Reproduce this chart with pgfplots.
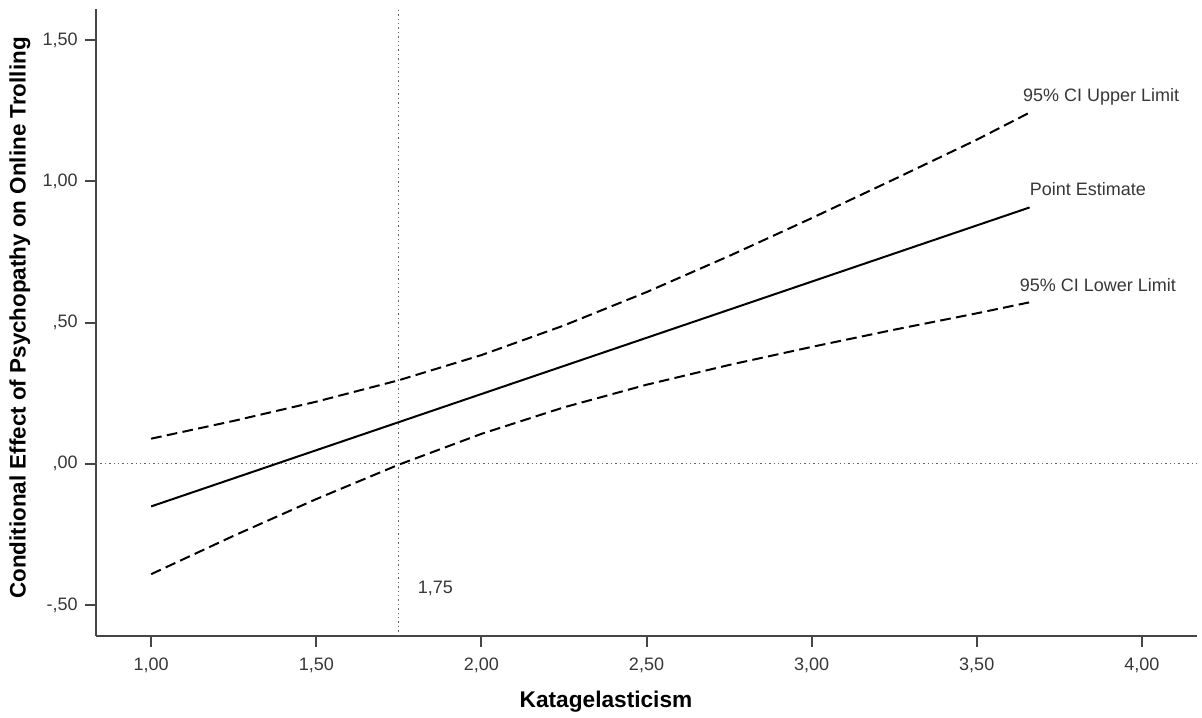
\documentclass[border=0pt]{standalone}
\usepackage{fontspec}
\setmainfont{Liberation Sans}
\usepackage{pgfplots}
\pgfplotsset{compat=1.18}
\definecolor{axisgray}{RGB}{70,70,70}
\definecolor{txtgray}{RGB}{55,55,55}
\definecolor{refgray}{RGB}{100,100,100}
\begin{document}
\begin{tikzpicture}
\path[use as bounding box] (0,0) rectangle (901.5pt,537.75pt);
\begin{axis}[
  at={(72pt,60.75pt)}, anchor=south west,
  scale only axis, width=825.75pt, height=470.25pt,
  xmin=0.833, xmax=4.167, ymin=-0.61, ymax=1.611,
  axis lines=left,
  axis line style={axisgray, line width=1.5pt, -},
  xtick={1,1.5,2,2.5,3,3.5,4},
  xticklabels={{1,00},{1,50},{2,00},{2,50},{3,00},{3,50},{4,00}},
  ytick={-0.5,0,0.5,1,1.5},
  yticklabels={{-,50},{,00},{,50},{1,00},{1,50}},
  tick align=outside, major tick length=8.25pt,
  major tick style={axisgray, line width=1.5pt},
  ticklabel style={font=\fontsize{13.5}{15}\selectfont, text=txtgray},
  xticklabel style={yshift=-5pt},
  yticklabel style={xshift=-2pt},
  clip=false,
]
\addplot[refgray, line width=1pt, dash pattern=on 1.1pt off 2.2pt] coordinates {(1.75,-0.61) (1.75,1.611)};
\addplot[refgray, line width=1pt, dash pattern=on 1.1pt off 2.2pt] coordinates {(0.833,0) (4.167,0)};
\addplot[black, line width=1.5pt] coordinates {(1.00,-0.151) (3.66,0.908)};
\addplot[black, line width=1.5pt, dash pattern=on 8pt off 4pt] coordinates {
(1.00,0.089) (1.25,0.152) (1.50,0.220) (1.75,0.296) (2.00,0.385) (2.25,0.490)
(2.50,0.608) (2.75,0.736) (3.00,0.870) (3.25,1.008) (3.50,1.148) (3.66,1.244)};
\addplot[black, line width=1.5pt, dash pattern=on 8pt off 4pt] coordinates {
(1.00,-0.391) (1.25,-0.255) (1.50,-0.125) (1.75,-0.003) (2.00,0.106) (2.25,0.200)
(2.50,0.280) (2.75,0.350) (3.00,0.414) (3.25,0.475) (3.50,0.533) (3.66,0.572)};
\node[anchor=base west, text=txtgray, font=\fontsize{13.5}{15}\selectfont, inner sep=0pt, yshift=9pt] at (axis cs:3.66,0.908) {Point Estimate};
\node[anchor=base west, text=txtgray, font=\fontsize{13.5}{15}\selectfont, inner sep=0pt, xshift=-5pt, yshift=8pt] at (axis cs:3.66,1.244) {95\% CI Upper Limit};
\node[anchor=base west, text=txtgray, font=\fontsize{13.5}{15}\selectfont, inner sep=0pt, xshift=-7.5pt, yshift=8pt] at (axis cs:3.66,0.572) {95\% CI Lower Limit};
\node[anchor=west, text=txtgray, font=\fontsize{13.5}{15}\selectfont, inner sep=0pt] at (axis cs:1.807,-0.443) {1,75};
\end{axis}
\node[anchor=base, font=\fontsize{17}{19}\bfseries\selectfont, inner sep=0pt] at (454.5pt,7.5pt) {Katagelasticism};
\node[rotate=90, font=\fontsize{16.8}{19}\bfseries\selectfont, inner sep=0pt] at (15pt,299.25pt) {Conditional Effect of Psychopathy on Online Trolling};
\end{tikzpicture}
\end{document}
